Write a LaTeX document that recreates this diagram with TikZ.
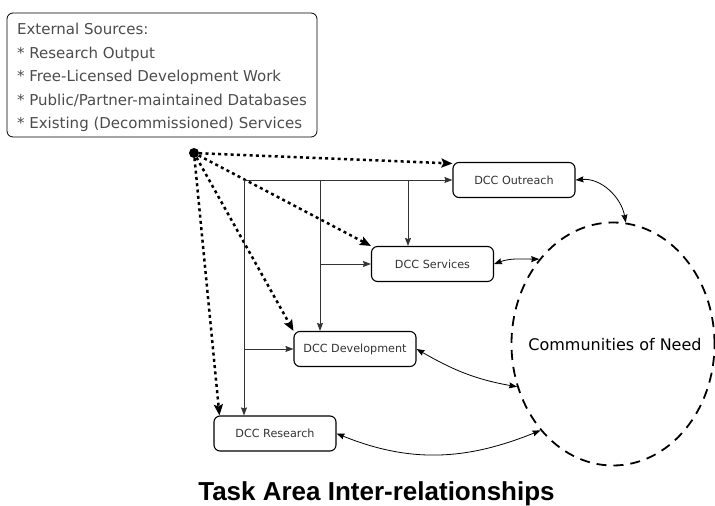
\documentclass[tikz,border=0pt]{standalone}
\usepackage{fontspec}
\setmainfont{DejaVu Sans}
\newfontfamily\titlefont{Liberation Sans}
\usetikzlibrary{calc,arrows.meta,shapes.geometric}

\begin{document}
\begin{tikzpicture}[x=1pt, y=1pt,
		task/.style={draw, line width=1.1pt, rounded corners=6pt, minimum width=122pt, minimum height=35pt, inner sep=0pt, text=black!80, font=\fontsize{11.2}{13}\selectfont},
		srcbox/.style={draw, line width=0.8pt, rounded corners=6pt, minimum width=310pt, minimum height=124pt, align=left, text=black!70, font=\fontsize{15}{23.5}\selectfont},
		hubdot/.style={circle, fill, inner sep=0pt, minimum size=10pt},
		need/.style={ellipse, draw, line width=1.8pt, dash pattern=on 10pt off 7pt, minimum width=203pt, minimum height=243pt, inner sep=0pt},
		feed/.style={line width=2.5pt, dash pattern=on 3pt off 3.3pt, -{Stealth[length=11pt,width=9pt,inset=2pt]}},
		link/.style={line width=0.9pt, black!80, -{Stealth[length=8pt,width=6pt,inset=1pt]}},
		twoway/.style={line width=0.8pt, {Stealth[length=8pt,width=6pt,inset=1pt]}-{Stealth[length=8pt,width=6pt,inset=1pt]}}]
	\useasboundingbox (0,0) rectangle (715,506);

	\node[srcbox] (src) at (162,431) {\rule{0pt}{17pt}External Sources:\\* Research Output\\* Free-Licensed Development Work\\* Public/Partner-maintained Databases\\* Existing (Decommissioned) Services};

	\node[task] (outreach) at (514,326) {DCC Outreach};
	\node[task] (services) at (432.5,242) {DCC Services};
	\node[task] (development) at (355,157) {DCC Development};
	\node[task] (research) at (275,72.5) {DCC Research};

	\node[hubdot] (dot) at (194,353) {};
	\node[need] (con) at (613,162) {};
	\node[font=\fontsize{16}{19}\selectfont] (conlabel) at (615,161) {Communities of Need};

	\node[font=\titlefont\bfseries\fontsize{26}{30}\selectfont, anchor=base] (title) at (376.5,5.5) {Task Area Inter-relationships};

	\coordinate (hub) at (244,326);
	\coordinate (j2) at (320,326);
	\coordinate (j3) at (408,326);

	\draw[feed] (dot) -- (outreach.165);
	\draw[feed] (dot) -- (services.north west);
	\draw[feed] (dot) -- (development.north west);
	\draw[feed] (dot) -- ([xshift=6pt]research.north west);

	\draw[link] (hub) -- (outreach.west);
	\draw[link] (hub) -- (hub |- research.north);
	\draw[link] (j2) -- (j2 |- development.north);
	\draw[link] (j3) -- (j3 |- services.north);
	\draw[link] (j2 |- services.west) -- (services.west);
	\draw[link] (hub |- development.west) -- (development.west);

	\draw[twoway] (outreach.east) to[out=5, in=100] (con.84);
	\draw[twoway] (services.east) to[out=20, in=180] (con.131);
	\draw[twoway] (development.east) to[out=-30, in=170] (con.204);
	\draw[twoway] (research.east) to[out=-22, in=202] (con.230);
\end{tikzpicture}
\end{document}
